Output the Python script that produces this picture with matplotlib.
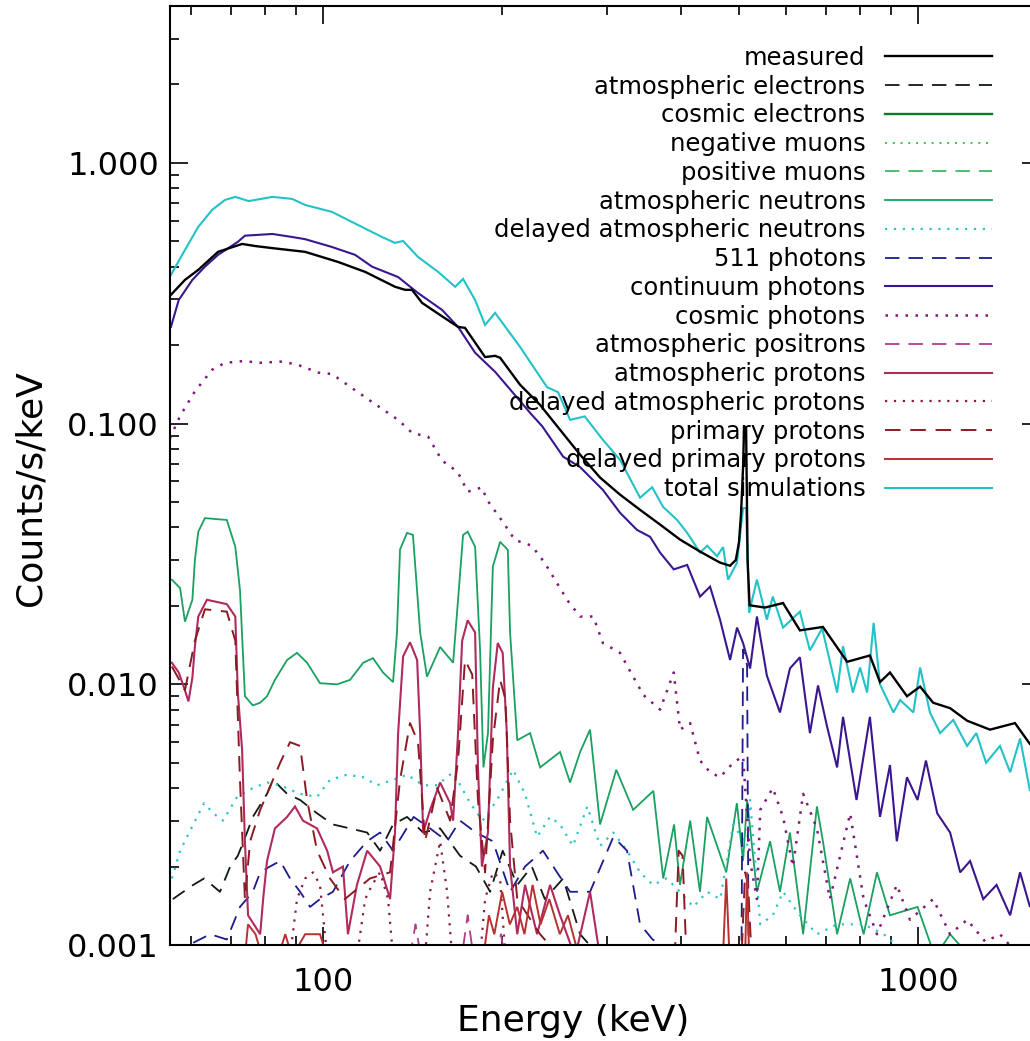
import matplotlib
matplotlib.use("Agg")
import matplotlib.pyplot as plt
from matplotlib.ticker import FixedLocator, FixedFormatter, NullFormatter

# ---------------- data (energy in keV, counts/s/keV) ----------------
E_meas = [55.5, 58.6, 61.7, 66.6, 73.1, 76.9, 83.0, 93.3, 106.0, 117.7, 132.1, 137.4, 141.1, 146.7,
          157.3, 168.6, 173.2, 187.2, 194.6, 198.4, 214.3, 231.6, 250.2, 270.4, 292.1, 315.6, 341.0,
          368.5, 398.1, 430.1, 464.7, 483.0, 494.0, 500.0, 504.0, 508.0, 510.0, 514.0, 517.0, 521.0,
          553.0, 593.0, 633.0, 692.0, 760.0, 830.0, 863.0, 897.0, 958.0, 1008.0, 1060.0, 1132.0,
          1209.0, 1321.0, 1455.0, 1542.0, 1600.0]
measured = [0.312, 0.356, 0.389, 0.456, 0.489, 0.480, 0.470, 0.456, 0.417, 0.382, 0.335, 0.326, 0.326,
            0.2905, 0.261, 0.235, 0.233, 0.180, 0.182, 0.179, 0.141, 0.118, 0.0947, 0.076, 0.0621,
            0.0534, 0.0467, 0.041, 0.0359, 0.0323, 0.0293, 0.0285, 0.030, 0.035, 0.045, 0.068, 0.097,
            0.097, 0.030, 0.0201, 0.0197, 0.0205, 0.0161, 0.0166, 0.0122, 0.0129, 0.0102, 0.0111,
            0.0090, 0.0098, 0.0085, 0.0081, 0.00725, 0.0067, 0.0071, 0.0059, 0.0059]

E_tot = [55.5, 58.6, 61.7, 65.1, 68.4, 71.2, 75.0, 82.2, 88.7, 93.3, 103.5, 111.8, 125.6, 132.1, 136.3,
         144.4, 156.1, 166.7, 171.9, 180.1, 187.2, 194.6, 214.3, 237.9, 248.3, 260.1, 275.2, 295.3,
         315.6, 341.0, 357.3, 372.9, 393.6, 409.2, 430.1, 442.2, 459.3, 470.2, 479.4, 496.3, 508, 514,
         520, 536, 557, 570, 593, 633, 658, 690, 731, 748, 777, 799, 821, 842, 863, 909, 933, 982,
         1008, 1047, 1089, 1146, 1209, 1253, 1301, 1373, 1428, 1484, 1542, 1600]
total = [0.372, 0.464, 0.569, 0.661, 0.721, 0.741, 0.714, 0.741, 0.728, 0.690, 0.649, 0.594, 0.520,
         0.4935, 0.502, 0.436, 0.382, 0.335, 0.359, 0.298, 0.239, 0.266, 0.197, 0.138, 0.132, 0.1034,
         0.1066, 0.0867, 0.0726, 0.052, 0.057, 0.0479, 0.0427, 0.0381, 0.032, 0.034, 0.031, 0.0336,
         0.0252, 0.0293, 0.0474, 0.0474, 0.0188, 0.0252, 0.0177, 0.0217, 0.0165, 0.0190, 0.0135,
         0.0164, 0.0093, 0.0140, 0.0093, 0.0116, 0.0093, 0.0172, 0.0100, 0.0078, 0.0087, 0.0078,
         0.0116, 0.0078, 0.0065, 0.0073, 0.0058, 0.0065, 0.0050, 0.0058, 0.0046, 0.0062, 0.0039, 0.0048]

E_cont = [55.5, 57.2, 60.3, 63.3, 66.6, 71.9, 73.9, 82.2, 88.7, 93.3, 103.5, 113.2, 120.9, 133.7, 144.4,
          158.5, 168.6, 180.1, 194.6, 222.8, 233.6, 253.2, 270.4, 295.3, 315.6, 337.0, 354.5, 368.5,
          388.5, 409.2, 430.1, 447.1, 464.7, 483.1, 496.3, 508, 522, 536, 557, 586, 609, 633, 658, 679,
          703, 731, 748, 788, 830, 863, 897, 921, 958, 998, 1031, 1077, 1132, 1177, 1223, 1287, 1355,
          1428, 1484, 1542, 1600]
continuum = [0.235, 0.298, 0.356, 0.400, 0.444, 0.498, 0.526, 0.534, 0.520, 0.510, 0.476, 0.444, 0.400,
             0.365, 0.317, 0.273, 0.235, 0.187, 0.158, 0.110, 0.0976, 0.0747, 0.0681, 0.0557, 0.0455,
             0.0391, 0.0368, 0.032, 0.0276, 0.0287, 0.0217, 0.0237, 0.0177, 0.0124, 0.0165, 0.0144,
             0.0115, 0.0182, 0.0108, 0.0078, 0.0115, 0.0127, 0.0065, 0.0099, 0.0069, 0.0048, 0.0075,
             0.0036, 0.0075, 0.0031, 0.0049, 0.0025, 0.0044, 0.0036, 0.0051, 0.0032, 0.0027, 0.0019,
             0.0021, 0.0015, 0.0017, 0.0013, 0.0019, 0.0014, 0.0016]

E_cph = [55.3, 57.5, 60.9, 65.1, 68.4, 73.9, 77.8, 85.3, 90.8, 98.1, 103.5, 111.8, 120.9, 133.7, 141.1,
         150.2, 158.5, 164.8, 168.6, 175.0, 184.9, 188.8, 199.9, 210.1, 224.3, 235.6, 257.8, 270.4,
         284.5, 295.3, 315.6, 332.0, 345.4, 368.5, 388.5, 398.1, 413.8, 430.1, 447.1, 464.7, 489, 508,
         522, 536, 543, 570, 593, 616, 641, 676, 711, 769, 810, 853, 921, 969, 1060, 1132, 1209, 1297,
         1373, 1484]
cosmic_photons = [0.088, 0.107, 0.133, 0.161, 0.171, 0.174, 0.171, 0.173, 0.168, 0.157, 0.155, 0.137,
                  0.121, 0.1034, 0.0922, 0.0890, 0.0721, 0.0677, 0.0648, 0.0548, 0.0569, 0.0508,
                  0.0424, 0.0358, 0.0340, 0.0293, 0.0209, 0.0182, 0.0182, 0.0144, 0.0132, 0.0107,
                  0.0091, 0.0080, 0.0111, 0.0067, 0.0071, 0.0051, 0.0046, 0.0044, 0.0050, 0.0053,
                  0.0021, 0.0015, 0.0033, 0.0040, 0.0031, 0.0020, 0.0038, 0.0028, 0.0015, 0.0032,
                  0.0015, 0.0011, 0.0017, 0.00125, 0.0015, 0.0011, 0.00125, 0.00103, 0.0011, 0.0009]

E_an = [55.7, 57.5, 58.6, 60.3, 60.9, 61.7, 63.3, 68.9, 71.2, 72.5, 73.9, 76.2, 78.4, 80.5, 83.0, 87.0,
        90.4, 94.0, 98.8, 105.6, 111.0, 116.8, 121.3, 126.1, 131.1, 133.1, 134.7, 138.4, 141.6, 145.6,
        149.5, 157.3, 165.4, 168.6, 171.9, 175.0, 180.1, 183.6, 186.0, 189.3, 192.9, 198.4, 204.4,
        206.2, 212.0, 222.8, 231.6, 250.2, 260.1, 270.4, 281.0, 292.1, 311, 332, 359, 373, 389, 398,
        414, 430, 442, 476, 496, 508, 516, 536, 564, 586, 609, 641, 676, 692, 731, 769, 810, 853, 897,
        998, 1068, 1132, 1223]
atm_neutrons = [0.0252, 0.0234, 0.0174, 0.0211, 0.0301, 0.0385, 0.0434, 0.0427, 0.0337, 0.0230,
                0.0090, 0.0083, 0.0085, 0.0090, 0.0104, 0.0124, 0.0132, 0.0121, 0.0101, 0.0100,
                0.0104, 0.0121, 0.0126, 0.0111, 0.0102, 0.0158, 0.0329, 0.0381, 0.0374, 0.0158,
                0.0107, 0.0139, 0.0121, 0.0211, 0.0374, 0.0385, 0.0337, 0.0135, 0.0048, 0.0065,
                0.0283, 0.0352, 0.0328, 0.0158, 0.0061, 0.0065, 0.0048, 0.0055, 0.0042, 0.0055,
                0.0067, 0.0029, 0.0047, 0.0033, 0.0039, 0.0018, 0.0029, 0.0017, 0.0030, 0.0016,
                0.0031, 0.0019, 0.0035, 0.0021, 0.0036, 0.0016, 0.0025, 0.0016, 0.0027, 0.0011,
                0.0034, 0.0025, 0.0011, 0.0018, 0.0011, 0.0019, 0.0013, 0.0014, 0.0009, 0.0011, 0.0009]

E_ap = [55.7, 57.2, 58.4, 59.4, 60.3, 60.9, 61.7, 63.8, 68.9, 71.2, 71.9, 73.1, 73.9, 74.8, 78.4, 79.3,
        80.5, 83.0, 87.0, 89.7, 92.5, 97.7, 101.6, 103.9, 108.0, 110.1, 114.0, 118.6, 124.7, 129.6,
        132.1, 133.7, 136.3, 140.0, 143.9, 145.6, 147.3, 151.3, 157.3, 163.5, 165.4, 168.6, 171.3,
        175.0, 180.1, 182.1, 184.9, 189.3, 192.9, 196.6, 200.4, 203.6, 206.2, 212.0, 218.5, 228.9,
        240.7, 250.2, 265.2, 281, 292]
atm_protons = [0.0121, 0.0111, 0.0097, 0.0086, 0.0106, 0.0140, 0.0182, 0.0211, 0.0203, 0.0182, 0.0093,
               0.0056, 0.0025, 0.0013, 0.0011, 0.0015, 0.0021, 0.0028, 0.0031, 0.0034, 0.0030, 0.0028,
               0.0023, 0.0019, 0.0020, 0.0011, 0.0017, 0.0023, 0.0020, 0.0015, 0.0027, 0.0065, 0.0128,
               0.0145, 0.0124, 0.0065, 0.0027, 0.0033, 0.0042, 0.0035, 0.0030, 0.0065, 0.0147, 0.0176,
               0.0158, 0.0048, 0.0020, 0.0027, 0.0097, 0.0144, 0.0132, 0.0065, 0.0020, 0.0011, 0.0017,
               0.0011, 0.0017, 0.0013, 0.0009, 0.0016, 0.0009]

E_pp = [55.7, 58.6, 60.9, 63.3, 68.9, 71.2, 72.5, 73.9, 75.4, 78.4, 80.5, 84.7, 88.0, 91.5, 94.0, 97.7,
        102.7, 108.8, 119.9, 129.6, 134.7, 140.0, 144.4, 148.4, 155.5, 163.5, 168.6, 173.2, 178.1,
        182.1, 187.2, 192.9, 198.4, 202.5, 206.2, 212.0, 231.6, 250, 390, 396, 402, 408, 505, 512,
        518, 525]
primary_protons = [0.0117, 0.0095, 0.0147, 0.0194, 0.0190, 0.0147, 0.0043, 0.0015, 0.0025, 0.0033,
                   0.0038, 0.0050, 0.0060, 0.0058, 0.0036, 0.0023, 0.0018, 0.0015, 0.0018, 0.0019,
                   0.0043, 0.0071, 0.0060, 0.0025, 0.0040, 0.0030, 0.0051, 0.0124, 0.0109, 0.0036,
                   0.0019, 0.0061, 0.0104, 0.0088, 0.0030, 0.0015, 0.0011, 0.0009, 0.0009, 0.0023,
                   0.0022, 0.0009, 0.0009, 0.0019, 0.0017, 0.0009]

E_ae = [55.9, 60.5, 63.1, 67.1, 69.8, 71.9, 74.5, 76.2, 80.5, 82.4, 87.0, 91.5, 97.7, 103.9, 111.0,
        118.6, 124.7, 131.1, 138.4, 147.3, 157.3, 169.9, 180.7, 190.9, 200.4, 212.0, 224.3, 235.9,
        253.2, 270.4, 292.1]
atm_electrons = [0.0015, 0.0017, 0.0018, 0.0016, 0.0020, 0.0022, 0.0027, 0.0031, 0.0038, 0.0043, 0.0038,
                 0.0036, 0.0032, 0.0029, 0.0028, 0.0027, 0.0023, 0.0029, 0.0031, 0.0027, 0.0028,
                 0.0022, 0.0020, 0.0016, 0.0023, 0.0017, 0.0020, 0.0015, 0.0018, 0.0011, 0.0009]

E_511 = [60.5, 64.6, 68.9, 72.5, 76.2, 78.4, 81.4, 84.7, 88.0, 91.5, 95.1, 98.8, 103.9, 111.0, 118.6,
         124.7, 131.1, 142.0, 151.3, 161.6, 169.9, 180.7, 192.9, 206.2, 218.5, 234.2, 247.3, 260.1,
         281.0, 307.5, 324.2, 341.0, 358, 398, 465, 505, 508, 516, 519, 633]
photons_511 = [0.00102, 0.0011, 0.00105, 0.0014, 0.0016, 0.0019, 0.0020, 0.0021, 0.0018, 0.0016, 0.0014,
               0.0015, 0.0016, 0.0021, 0.0025, 0.0027, 0.0023, 0.0031, 0.0028, 0.0025, 0.0030, 0.0027,
               0.0025, 0.0016, 0.0020, 0.0023, 0.0019, 0.0016, 0.0016, 0.0026, 0.0023, 0.0012,
               0.00105, 0.0009, 0.0009, 0.00095, 0.0136, 0.0118, 0.0009, 0.0009]

E_dan = [55.7, 57.5, 60.5, 63.1, 65.4, 67.9, 71.7, 76.2, 80.5, 84.7, 91.5, 97.7, 102.7, 109.7, 116.8,
         123.2, 131.1, 138.4, 147.3, 155.5, 165.4, 176.7, 185.4, 196.1, 208.6, 218.5, 228.9, 240.7,
         250.2, 263.0, 278.0, 292.1, 307.5, 324.2, 341.0, 358.4, 378, 398, 419, 442, 465, 489, 516,
         522, 543, 570, 593, 633, 676, 731, 810, 876, 969]
delayed_atm_neutrons = [0.0018, 0.0023, 0.0029, 0.0035, 0.0032, 0.0030, 0.0037, 0.0040, 0.0042, 0.0041,
                        0.0038, 0.0037, 0.0043, 0.0045, 0.0044, 0.0041, 0.0043, 0.0045, 0.0041, 0.0041,
                        0.0046, 0.0035, 0.0030, 0.0036, 0.0047, 0.0038, 0.0026, 0.0031, 0.0029, 0.0024,
                        0.0034, 0.0024, 0.0027, 0.0023, 0.0019, 0.0017, 0.0018, 0.0016, 0.0014, 0.0016,
                        0.0015, 0.0029, 0.0024, 0.0036, 0.0012, 0.0013, 0.0016, 0.0013, 0.0011, 0.0012,
                        0.0012, 0.0011, 0.0009]

E_dap = [88.0, 90.4, 93.3, 96.2, 98.8, 101.6, 114.0, 117.7, 120.9, 124.7, 128.6, 131.1, 148.4, 151.3,
         157.3, 161.6, 164.8, 183.6, 187.2, 192.9, 198.4, 202.5]
delayed_atm_protons = [0.0009, 0.0015, 0.0018, 0.0019, 0.0017, 0.0009, 0.0009, 0.0015, 0.0017, 0.0019,
                       0.0015, 0.0009, 0.0009, 0.0016, 0.0025, 0.0016, 0.0009, 0.0009, 0.0015, 0.0019,
                       0.0018, 0.0009]

E_dpp = [73.9, 74.8, 77.0, 79.0, 84.0, 86.4, 88.7, 93.3, 96.0, 98.8, 101.6, 186, 190, 194, 200, 206, 212,
         218, 225, 232, 240, 250, 258, 266, 275, 470, 476, 482, 512, 516, 520]
delayed_primary_protons = [0.0009, 0.0012, 0.0011, 0.0009, 0.0009, 0.0011, 0.0009, 0.0011, 0.0011,
                           0.0011, 0.0009, 0.0009, 0.0013, 0.0011, 0.0016, 0.0012, 0.0014, 0.0011,
                           0.0017, 0.0012, 0.0015, 0.0011, 0.0013, 0.0010, 0.0009, 0.0009, 0.0018,
                           0.0009, 0.0009, 0.0019, 0.0009]

E_apos = [140, 143, 146, 171, 175, 179, 196, 199, 202]
atm_positrons = [0.0009, 0.0012, 0.0009, 0.0009, 0.0013, 0.0009, 0.0009, 0.0011, 0.0009]

E_low = [60, 100, 200, 500, 1000]
cosmic_electrons = [0.0007, 0.0008, 0.0007, 0.0005, 0.0004]
negative_muons = [0.0006, 0.0007, 0.0007, 0.0006, 0.0005]
positive_muons = [0.0006, 0.0007, 0.0006, 0.0006, 0.0005]

labels = ["measured", "atmospheric electrons", "cosmic electrons", "negative muons",
          "positive muons", "atmospheric neutrons", "delayed atmospheric neutrons",
          "511 photons", "continuum photons", "cosmic photons", "atmospheric positrons",
          "atmospheric protons", "delayed atmospheric protons", "primary protons",
          "delayed primary protons", "total simulations"]

x_ticks = [100, 1000]
x_ticklabels = ["100", "1000"]
y_ticks = [0.001, 0.01, 0.1, 1.0]
y_ticklabels = ["0.001", "0.010", "0.100", "1.000"]

# ---------------- figure ----------------
plt.rcParams["font.family"] = ["DejaVu Sans"]
W, H = 1030, 1041
fig = plt.figure(figsize=(W / 100, H / 100), dpi=100)
ax = fig.add_axes([170 / W, 96 / H, (1040 - 170) / W, (945 - 6) / H])
ax.set_xscale("log")
ax.set_yscale("log")

DASH = (0, (8, 5))
DOT = (0, (1, 3))

series = [
    (E_meas, measured, dict(color="black", lw=1.7, ls="-")),
    (E_ae, atm_electrons, dict(color="#101a10", lw=1.3, ls=DASH)),
    (E_low, cosmic_electrons, dict(color="#0a7a2a", lw=1.7, ls="-")),
    (E_low, negative_muons, dict(color="#33c255", lw=1.4, ls=DOT)),
    (E_low, positive_muons, dict(color="#3dbb66", lw=1.3, ls=DASH)),
    (E_an, atm_neutrons, dict(color="#1aa060", lw=1.3, ls="-")),
    (E_dan, delayed_atm_neutrons, dict(color="#2cc4c8", lw=1.6, ls=DOT)),
    (E_511, photons_511, dict(color="#1c1c8c", lw=1.3, ls=DASH)),
    (E_cont, continuum, dict(color="#3a1690", lw=1.5, ls="-")),
    (E_cph, cosmic_photons, dict(color="#80187a", lw=1.8, ls=DOT)),
    (E_apos, atm_positrons, dict(color="#b03c8c", lw=1.3, ls=DASH)),
    (E_ap, atm_protons, dict(color="#b02a5e", lw=1.5, ls="-")),
    (E_dap, delayed_atm_protons, dict(color="#8a1a40", lw=1.6, ls=DOT)),
    (E_pp, primary_protons, dict(color="#8b1a22", lw=1.4, ls=DASH)),
    (E_dpp, delayed_primary_protons, dict(color="#b83030", lw=1.4, ls="-")),
    (E_tot, total, dict(color="#22c2c8", lw=1.5, ls="-")),
]

handles = []
for i, (xx, yy, st) in enumerate(series):
    z = 3 if i == 0 else (2.5 if i == 15 else 2)
    (ln,) = ax.plot(xx, yy, label=labels[i], zorder=z, solid_joinstyle="miter", **st)
    handles.append(ln)

ax.set_xlim(55.3, 1603)
ax.set_ylim(0.001, 4.0)

ax.xaxis.set_major_locator(FixedLocator(x_ticks))
ax.xaxis.set_major_formatter(FixedFormatter(x_ticklabels))
ax.xaxis.set_minor_locator(FixedLocator([60, 70, 80, 90, 200, 300, 400, 500, 600, 700, 800, 900]))
ax.xaxis.set_minor_formatter(NullFormatter())
ax.yaxis.set_major_locator(FixedLocator(y_ticks))
ax.yaxis.set_major_formatter(FixedFormatter(y_ticklabels))
yminor = [m * d for d in (0.001, 0.01, 0.1, 1.0) for m in range(2, 10) if m * d < 4.0]
ax.yaxis.set_minor_locator(FixedLocator(yminor))
ax.yaxis.set_minor_formatter(NullFormatter())

ax.tick_params(which="both", direction="in", top=True, right=True, width=1.2, colors="black")
ax.tick_params(which="major", length=13, labelsize=23)
ax.tick_params(which="minor", length=6.5)
ax.tick_params(axis="x", which="major", pad=16)
ax.tick_params(axis="y", which="major", pad=8)
for sp in ax.spines.values():
    sp.set_linewidth(1.5)

ax.set_xlabel("Energy (keV)", fontsize=26)
ax.set_ylabel("Counts/s/keV", fontsize=26)
ax.xaxis.set_label_coords(0.464, -0.0625)
ax.yaxis.set_label_coords(-0.141, 0.487)

ax.legend(handles, labels, loc="upper right", bbox_to_anchor=(992 / W, (H - 46) / H),
          bbox_transform=fig.transFigure, frameon=False, markerfirst=False, fontsize=17.5,
          handlelength=4.4, handletextpad=0.8, labelspacing=0.195, borderpad=0, borderaxespad=0)

fig.savefig("out.png", dpi=100)
